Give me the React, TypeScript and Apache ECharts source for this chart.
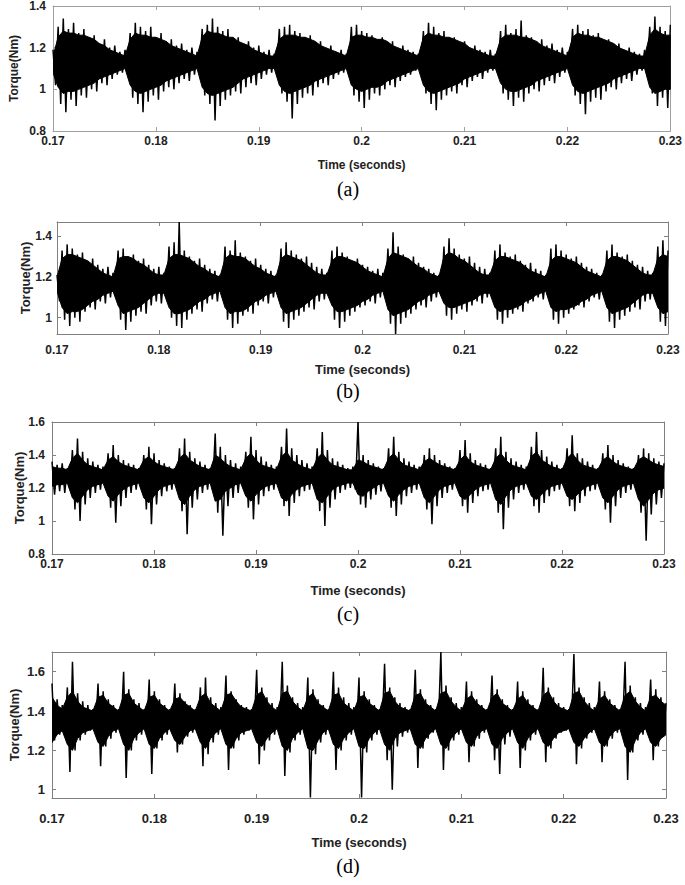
import React, { useEffect, useRef } from "react";
import * as echarts from "echarts";

// Sampling: envelope points every 0.5 ms from 0.170 s; peak lows sit half a step after the highs
const T0 = 0.17;
const STEP = 0.0005;

const xTicks = [0.17, 0.18, 0.19, 0.2, 0.21, 0.22, 0.23];
const yTicksA = [0.8, 1, 1.2, 1.4];
const yTicksB = [1, 1.2, 1.4];
const yTicksC = [0.8, 1, 1.2, 1.4, 1.6];
const yTicksD = [1, 1.2, 1.4, 1.6];
const captions = ["(a)", "(b)", "(c)", "(d)"];

// ---------- (a) ----------
const hiA = [1.19,1.30,1.34,1.29,1.32,1.27,1.29,1.25,1.26,1.22,
 1.24,1.20,1.21,1.18,1.19,1.27,1.32,1.30,1.28,1.30,
 1.25,1.27,1.23,1.24,1.21,1.22,1.19,1.20,1.18,1.29,
 1.31,1.34,1.30,1.28,1.29,1.24,1.25,1.22,1.23,1.20,
 1.21,1.18,1.19,1.17,1.29,1.30,1.31,1.28,1.27,1.25,
 1.26,1.22,1.23,1.20,1.21,1.18,1.19,1.17,1.30,1.31,
 1.28,1.27,1.26,1.24,1.25,1.22,1.23,1.20,1.21,1.19,
 1.18,1.17,1.28,1.32,1.30,1.27,1.28,1.24,1.25,1.22,
 1.23,1.20,1.21,1.19,1.18,1.19,1.17,1.28,1.31,1.27,
 1.29,1.33,1.26,1.25,1.23,1.24,1.21,1.22,1.19,1.20,
 1.18,1.29,1.31,1.28,1.29,1.26,1.27,1.23,1.24,1.21,
 1.22,1.19,1.20,1.18,1.17,1.19,1.30,1.35,1.30,1.28,
 1.31];
const loA = [1.02,0.93,0.89,0.95,0.92,0.97,0.96,1.00,0.99,1.03,
 1.02,1.05,1.07,1.08,1.10,0.96,0.93,0.89,0.94,0.97,
 0.95,0.99,1.01,1.00,1.03,1.05,1.04,1.07,1.09,0.97,
 0.93,0.85,0.92,0.95,0.97,0.99,0.98,1.01,1.03,1.02,
 1.05,1.07,1.08,1.10,0.98,0.94,0.86,0.93,0.96,0.98,
 0.97,1.01,1.03,1.02,1.05,1.07,1.08,1.10,0.97,0.94,
 0.91,0.95,0.98,0.97,1.00,1.02,1.01,1.04,1.06,1.07,
 1.09,1.10,0.98,0.93,0.90,0.95,0.97,0.99,0.98,1.02,
 1.01,1.04,1.06,1.05,1.08,1.09,1.10,0.98,0.95,0.92,
 0.96,0.94,0.98,1.00,0.99,1.02,1.04,1.03,1.06,1.08,
 1.09,0.97,0.93,0.88,0.94,0.96,0.95,0.99,1.01,1.00,
 1.03,1.05,1.04,1.07,1.09,1.08,0.98,0.92,0.96,0.91];
const coreHiA = [1.16,
 1.25,1.28,1.27,1.27,1.26,1.26,1.25,1.24,1.22,1.21,1.19,1.18,1.17,1.16,
 1.24,1.27,1.26,1.26,1.25,1.25,1.24,1.23,1.21,1.20,1.19,1.18,1.17,1.16,
 1.25,1.28,1.27,1.27,1.26,1.25,1.25,1.23,1.22,1.21,1.19,1.18,1.17,1.16,1.16,
 1.24,1.26,1.26,1.26,1.25,1.25,1.24,1.23,1.21,1.20,1.19,1.18,1.17,1.16,
 1.25,1.26,1.26,1.25,1.25,1.24,1.24,1.23,1.21,1.20,1.19,1.18,1.17,1.16,
 1.25,1.27,1.26,1.26,1.25,1.25,1.24,1.23,1.22,1.20,1.19,1.18,1.17,1.16,1.16,
 1.24,1.26,1.26,1.26,1.25,1.25,1.24,1.23,1.21,1.20,1.19,1.18,1.17,1.16,
 1.25,1.27,1.26,1.26,1.25,1.25,1.24,1.23,1.22,1.20,1.19,1.18,1.17,1.16,1.16,
 1.26,1.29,1.27,1.26,1.26];
const coreLoA = [1.08,
 1.01,0.98,0.99,0.99,1.00,1.01,1.02,1.03,1.05,1.06,1.07,1.08,1.09,1.10,
 1.02,0.99,0.98,0.99,1.00,1.01,1.02,1.04,1.05,1.06,1.07,1.08,1.09,1.10,
 1.01,0.98,0.97,0.98,0.99,1.00,1.01,1.03,1.05,1.06,1.07,1.08,1.09,1.10,1.10,
 1.02,0.99,0.98,0.99,1.00,1.01,1.02,1.04,1.05,1.06,1.07,1.08,1.09,1.10,
 1.02,1.00,0.99,1.00,1.01,1.01,1.02,1.04,1.05,1.06,1.07,1.08,1.09,1.10,
 1.02,0.99,0.98,0.99,1.00,1.01,1.02,1.03,1.05,1.06,1.07,1.08,1.09,1.10,1.10,
 1.03,1.00,0.99,0.99,1.00,1.01,1.02,1.04,1.05,1.06,1.07,1.08,1.09,1.10,
 1.02,0.99,0.98,0.99,1.00,1.01,1.02,1.03,1.05,1.06,1.07,1.08,1.09,1.10,1.10,
 1.01,0.98,0.99,1.00,1.00];

// ---------- (b) ----------
const hiB = [1.21,1.33,1.36,1.34,1.31,1.32,1.28,1.29,1.26,1.24,
 1.25,1.22,1.33,1.34,1.30,1.31,1.28,1.29,1.26,1.24,
 1.25,1.22,1.35,1.37,1.47,1.33,1.30,1.28,1.29,1.26,
 1.24,1.23,1.21,1.35,1.33,1.38,1.32,1.30,1.28,1.29,
 1.26,1.24,1.23,1.21,1.34,1.37,1.33,1.31,1.29,1.30,
 1.27,1.25,1.24,1.22,1.33,1.35,1.32,1.30,1.28,1.29,
 1.26,1.25,1.23,1.24,1.22,1.34,1.42,1.35,1.31,1.29,
 1.30,1.27,1.25,1.24,1.22,1.21,1.35,1.39,1.34,1.31,
 1.29,1.30,1.27,1.25,1.24,1.22,1.33,1.36,1.32,1.30,
 1.31,1.28,1.26,1.27,1.24,1.23,1.21,1.34,1.36,1.33,
 1.31,1.29,1.30,1.27,1.25,1.24,1.22,1.21,1.33,1.36,
 1.32,1.30,1.31,1.28,1.26,1.25,1.23,1.22,1.35,1.38,
 1.33];
const loB = [1.08,0.99,0.96,1.00,0.98,1.03,1.05,1.04,1.08,1.07,
 1.10,1.11,0.99,0.94,0.98,1.01,1.03,1.02,1.06,1.08,
 1.07,1.10,1.00,0.96,0.95,0.99,1.02,1.04,1.03,1.07,
 1.09,1.08,1.11,0.99,0.95,0.97,1.01,1.03,1.02,1.06,
 1.08,1.07,1.10,1.11,0.98,0.95,0.99,1.01,1.03,1.05,
 1.04,1.08,1.09,1.11,0.99,0.95,0.98,1.01,1.03,1.05,
 1.06,1.08,1.07,1.10,1.11,0.97,0.92,0.97,1.00,1.02,
 1.04,1.06,1.05,1.08,1.10,1.11,1.01,0.99,1.02,1.04,
 1.03,1.06,1.08,1.07,1.10,1.11,0.99,0.97,1.00,1.02,
 1.04,1.03,1.07,1.08,1.10,1.09,1.11,0.99,0.97,1.00,
 1.02,1.04,1.06,1.05,1.08,1.10,1.09,1.11,0.98,0.95,
 0.99,1.01,1.03,1.05,1.04,1.08,1.09,1.11,0.98,0.96];
const coreHiB = [1.20,
 1.29,1.31,1.31,1.30,1.29,1.28,1.26,1.24,1.22,1.21,1.20,
 1.29,1.30,1.30,1.29,1.27,1.26,1.24,1.22,1.21,1.21,
 1.29,1.31,1.31,1.30,1.29,1.27,1.25,1.24,1.22,1.21,1.20,
 1.29,1.31,1.30,1.30,1.29,1.27,1.25,1.24,1.22,1.21,1.20,
 1.29,1.31,1.30,1.29,1.28,1.26,1.24,1.22,1.21,1.21,
 1.28,1.30,1.30,1.29,1.28,1.27,1.25,1.23,1.22,1.21,1.20,
 1.29,1.32,1.31,1.30,1.29,1.27,1.25,1.24,1.22,1.21,1.20,
 1.30,1.32,1.31,1.29,1.28,1.26,1.24,1.22,1.21,1.21,
 1.28,1.30,1.30,1.29,1.28,1.27,1.25,1.23,1.22,1.21,1.20,
 1.28,1.30,1.30,1.29,1.28,1.27,1.25,1.23,1.22,1.21,1.20,
 1.28,1.30,1.30,1.29,1.28,1.26,1.24,1.22,1.21,1.21,
 1.29,1.31,1.30];
const coreLoB = [1.13,
 1.05,1.02,1.03,1.03,1.04,1.06,1.08,1.09,1.11,1.12,1.13,
 1.06,1.02,1.03,1.04,1.05,1.07,1.09,1.11,1.12,1.12,
 1.05,1.02,1.02,1.03,1.04,1.06,1.08,1.09,1.11,1.12,1.13,
 1.05,1.02,1.03,1.03,1.04,1.06,1.08,1.09,1.11,1.12,1.13,
 1.05,1.02,1.03,1.04,1.05,1.07,1.09,1.11,1.12,1.12,
 1.06,1.03,1.03,1.04,1.05,1.06,1.08,1.09,1.11,1.12,1.13,
 1.04,1.01,1.02,1.03,1.04,1.06,1.08,1.09,1.11,1.12,1.13,
 1.07,1.05,1.05,1.06,1.07,1.08,1.09,1.11,1.12,1.12,
 1.05,1.03,1.04,1.04,1.05,1.06,1.08,1.09,1.11,1.12,1.13,
 1.05,1.03,1.04,1.04,1.05,1.06,1.08,1.09,1.11,1.12,1.13,
 1.05,1.02,1.03,1.04,1.05,1.07,1.09,1.11,1.12,1.12,
 1.05,1.02,1.03];

// ---------- (c) ----------
const hiC = [1.36,1.34,1.35,1.32,1.43,1.50,1.42,1.38,1.36,1.34,
 1.33,1.41,1.46,1.40,1.37,1.35,1.34,1.32,1.40,1.45,
 1.41,1.37,1.35,1.33,1.32,1.44,1.50,1.42,1.38,1.36,
 1.34,1.32,1.53,1.45,1.40,1.37,1.35,1.33,1.42,1.51,
 1.43,1.39,1.36,1.34,1.33,1.45,1.56,1.44,1.40,1.37,
 1.35,1.33,1.44,1.54,1.43,1.38,1.36,1.34,1.32,1.33,
 1.60,1.40,1.37,1.35,1.33,1.32,1.44,1.51,1.42,1.38,
 1.36,1.34,1.33,1.40,1.44,1.40,1.37,1.35,1.33,1.32,
 1.43,1.49,1.41,1.37,1.35,1.34,1.32,1.44,1.51,1.42,
 1.38,1.36,1.34,1.33,1.45,1.54,1.43,1.39,1.36,1.34,
 1.32,1.44,1.52,1.41,1.38,1.36,1.34,1.32,1.41,1.46,
 1.40,1.37,1.35,1.33,1.32,1.40,1.44,1.41,1.38,1.36,
 1.35];
const loC = [1.16,1.18,1.17,1.19,1.07,1.00,1.10,1.14,1.17,1.19,
 1.20,1.08,0.99,1.09,1.14,1.17,1.19,1.20,1.07,0.98,
 1.10,1.15,1.18,1.19,1.21,1.06,0.92,1.08,1.13,1.17,
 1.19,1.20,1.05,0.91,1.09,1.14,1.17,1.20,1.08,1.01,
 1.10,1.15,1.18,1.19,1.21,1.09,1.03,1.11,1.15,1.18,
 1.19,1.21,1.06,0.97,1.08,1.13,1.17,1.19,1.20,1.19,
 1.10,1.08,1.13,1.16,1.18,1.20,1.08,1.03,1.10,1.15,
 1.17,1.19,1.20,1.07,0.98,1.09,1.14,1.17,1.19,1.21,
 1.09,1.05,1.11,1.15,1.18,1.19,1.21,1.05,0.95,1.08,
 1.13,1.17,1.19,1.20,1.09,1.05,1.11,1.15,1.18,1.19,
 1.21,1.09,1.06,1.11,1.15,1.18,1.19,1.20,1.07,0.99,
 1.09,1.14,1.17,1.19,1.20,1.05,0.88,1.04,1.10,1.14];
const coreHiC = [1.33,1.32,1.32,1.31,
 1.38,1.41,1.37,1.34,1.33,1.32,1.31,
 1.37,1.39,1.36,1.34,1.33,1.32,1.31,
 1.37,1.39,1.36,1.34,1.33,1.32,1.31,
 1.38,1.41,1.37,1.35,1.33,1.32,1.31,
 1.40,1.38,1.35,1.33,1.32,1.31,
 1.38,1.41,1.37,1.34,1.33,1.32,1.31,
 1.39,1.42,1.37,1.35,1.33,1.32,1.31,
 1.38,1.41,1.37,1.34,1.33,1.32,1.31,1.31,
 1.37,1.36,1.34,1.33,1.32,1.31,
 1.38,1.41,1.37,1.34,1.33,1.32,1.31,
 1.36,1.38,1.36,1.34,1.33,1.32,1.31,
 1.37,1.40,1.36,1.34,1.33,1.32,1.31,
 1.38,1.41,1.37,1.34,1.33,1.32,1.31,
 1.39,1.42,1.37,1.35,1.33,1.32,1.31,
 1.38,1.41,1.37,1.34,1.33,1.32,1.31,
 1.37,1.39,1.36,1.34,1.33,1.32,1.31,
 1.37,1.39,1.37,1.35,1.34,1.33];
const coreLoC = [1.21,1.22,1.22,1.23,
 1.14,1.11,1.15,1.19,1.21,1.22,1.23,
 1.15,1.12,1.16,1.19,1.21,1.22,1.23,
 1.14,1.11,1.15,1.19,1.21,1.22,1.23,
 1.13,1.10,1.15,1.19,1.21,1.22,1.23,
 1.12,1.13,1.18,1.20,1.22,1.23,
 1.15,1.12,1.16,1.19,1.21,1.22,1.23,
 1.14,1.12,1.16,1.19,1.21,1.22,1.23,
 1.13,1.11,1.15,1.19,1.21,1.22,1.23,1.23,
 1.16,1.15,1.18,1.20,1.22,1.23,
 1.15,1.12,1.16,1.19,1.21,1.22,1.23,
 1.14,1.11,1.15,1.19,1.21,1.22,1.23,
 1.15,1.13,1.16,1.19,1.21,1.22,1.23,
 1.13,1.10,1.15,1.19,1.21,1.22,1.23,
 1.15,1.13,1.16,1.19,1.21,1.22,1.23,
 1.15,1.13,1.16,1.19,1.21,1.22,1.23,
 1.14,1.11,1.15,1.19,1.21,1.22,1.23,
 1.13,1.09,1.13,1.17,1.19,1.20];

// ---------- (d) ----------
const hiD = [1.54,1.46,1.43,1.52,1.65,1.49,1.45,1.43,1.41,1.54,
 1.50,1.46,1.43,1.41,1.60,1.51,1.46,1.44,1.41,1.56,
 1.50,1.46,1.43,1.41,1.54,1.49,1.45,1.43,1.41,1.52,
 1.57,1.47,1.44,1.42,1.58,1.50,1.46,1.43,1.42,1.41,
 1.61,1.52,1.47,1.44,1.42,1.65,1.53,1.47,1.44,1.42,
 1.57,1.51,1.46,1.43,1.41,1.60,1.52,1.47,1.44,1.42,
 1.57,1.50,1.46,1.43,1.41,1.64,1.52,1.47,1.44,1.42,
 1.41,1.61,1.51,1.46,1.43,1.41,1.70,1.53,1.47,1.44,
 1.42,1.55,1.50,1.46,1.43,1.41,1.58,1.51,1.46,1.43,
 1.41,1.55,1.50,1.46,1.43,1.41,1.62,1.52,1.47,1.44,
 1.42,1.41,1.69,1.52,1.47,1.44,1.42,1.55,1.50,1.46,
 1.43,1.41,1.65,1.53,1.47,1.44,1.42,1.56,1.51,1.47,
 1.44];
const loD = [1.25,1.28,1.30,1.09,1.20,1.25,1.28,1.30,1.31,1.12,
 1.22,1.26,1.29,1.31,1.06,1.20,1.25,1.28,1.30,1.08,
 1.21,1.25,1.28,1.30,1.19,1.23,1.27,1.29,1.31,1.12,
 1.18,1.24,1.28,1.30,1.10,1.21,1.25,1.28,1.30,1.31,
 1.13,1.20,1.25,1.28,1.30,1.07,1.19,1.25,1.28,1.30,
 0.96,1.18,1.24,1.28,1.30,1.10,1.20,1.25,1.28,1.30,
 0.96,1.19,1.25,1.28,1.30,1.15,1.00,1.22,1.27,1.29,
 1.31,1.11,1.21,1.26,1.29,1.31,1.10,1.20,1.25,1.28,
 1.30,1.14,1.22,1.26,1.29,1.31,1.15,1.08,1.23,1.27,
 1.30,1.11,1.20,1.25,1.28,1.30,1.14,1.21,1.26,1.29,
 1.30,1.31,1.13,1.21,1.26,1.29,1.31,1.14,1.22,1.26,
 1.29,1.31,1.05,1.19,1.25,1.28,1.30,1.15,1.22,1.27];
const coreHiD = [1.47,1.43,1.41,
 1.47,1.50,1.45,1.42,1.41,1.40,
 1.47,1.48,1.44,1.42,1.40,
 1.48,1.49,1.44,1.42,1.40,
 1.47,1.48,1.44,1.42,1.40,
 1.46,1.47,1.44,1.42,1.40,
 1.47,1.49,1.44,1.42,1.40,
 1.48,1.49,1.45,1.42,1.41,1.40,
 1.48,1.50,1.45,1.42,1.40,
 1.49,1.50,1.45,1.42,1.40,
 1.47,1.49,1.44,1.42,1.40,
 1.48,1.49,1.44,1.42,1.40,
 1.47,1.48,1.44,1.42,1.40,
 1.49,1.50,1.45,1.42,1.41,1.40,
 1.48,1.49,1.44,1.42,1.40,
 1.49,1.50,1.45,1.42,1.40,
 1.46,1.48,1.44,1.42,1.40,
 1.47,1.49,1.44,1.42,1.40,
 1.46,1.48,1.44,1.42,1.40,
 1.48,1.50,1.45,1.42,1.41,1.40,
 1.49,1.50,1.45,1.42,1.40,
 1.46,1.48,1.44,1.42,1.40,
 1.48,1.50,1.45,1.42,1.40,
 1.47,1.48,1.45,1.43];
const coreLoD = [1.24,1.28,1.30,
 1.23,1.20,1.26,1.29,1.30,1.31,
 1.24,1.22,1.27,1.30,1.31,
 1.23,1.20,1.26,1.29,1.31,
 1.23,1.21,1.26,1.29,1.31,
 1.25,1.23,1.27,1.30,1.31,
 1.24,1.21,1.26,1.29,1.31,
 1.23,1.21,1.26,1.29,1.30,1.31,
 1.24,1.22,1.26,1.29,1.31,
 1.22,1.20,1.26,1.29,1.31,
 1.21,1.20,1.25,1.29,1.31,
 1.23,1.21,1.26,1.29,1.31,
 1.22,1.21,1.26,1.29,1.31,
 1.23,1.20,1.26,1.29,1.30,1.31,
 1.23,1.21,1.26,1.29,1.31,
 1.23,1.21,1.26,1.29,1.31,
 1.24,1.22,1.27,1.30,1.31,
 1.23,1.21,1.26,1.29,1.31,
 1.24,1.21,1.26,1.29,1.31,
 1.24,1.22,1.26,1.29,1.30,1.31,
 1.24,1.22,1.26,1.29,1.31,
 1.24,1.22,1.27,1.30,1.31,
 1.22,1.19,1.25,1.29,1.31,
 1.24,1.22,1.26,1.28];

const tAt = (i: number) => +(T0 + i * STEP).toFixed(6);

function zigzag(hi: number[], lo: number[]) {
  const pts: number[][] = [];
  for (let i = 0; i < hi.length; i++) {
    pts.push([tAt(i), hi[i]]);
    if (i < lo.length) pts.push([+(T0 + i * STEP + STEP / 2).toFixed(6), lo[i]]);
  }
  return pts;
}

const FONT = "'Liberation Sans', Arial, Helvetica, sans-serif";

const panels = [
  { hi: hiA, lo: loA, cHi: coreHiA, cLo: coreLoA, yMin: 0.8, yMax: 1.4, yTicks: yTicksA,
    grid: { left: 42, top: 5, width: 629, height: 126 },
    xm: 4, ym: 7, xg: 28, yg: 33, fs: 12, nfs: 12, cap: 189, box: "#a0a0a0" },
  { hi: hiB, lo: loB, cHi: coreHiB, cLo: coreLoB, yMin: 0.92, yMax: 1.47, yTicks: yTicksB,
    grid: { left: 57, top: 222, width: 611, height: 112 },
    xm: 10, ym: 5, xg: 29, yg: 25, fs: 12, nfs: 13, cap: 391, box: "#808080" },
  { hi: hiC, lo: loC, cHi: coreHiC, cLo: coreLoC, yMin: 0.8, yMax: 1.6, yTicks: yTicksC,
    grid: { left: 52, top: 422, width: 612, height: 132 },
    xm: 4, ym: 7, xg: 30, yg: 26, fs: 12, nfs: 13, cap: 614, box: "#808080" },
  { hi: hiD, lo: loD, cHi: coreHiD, cLo: coreLoD, yMin: 0.958, yMax: 1.7, yTicks: yTicksD,
    grid: { left: 46, top: 652, width: 620, height: 146 },
    xm: 14, ym: 7, xg: 38, yg: 31, fs: 13, nfs: 13, cap: 866, box: "#808080" },
];

export default function App() {
  const ref = useRef<HTMLDivElement>(null);
  useEffect(() => {
    if (!ref.current) return;
    const chart = echarts.init(ref.current, undefined, { renderer: "svg" });
    const grids: any[] = [];
    const xAxes: any[] = [];
    const yAxes: any[] = [];
    const series: any[] = [];
    const graphics: any[] = [];
    panels.forEach((p, k) => {
      grids.push({ ...p.grid, containLabel: false });
      const lineStyle = { color: p.box, width: 1 };
      const labelStyle = { fontFamily: FONT, fontWeight: "bold", fontSize: p.fs, color: "#222" };
      xAxes.push({
        type: "value", gridIndex: k, min: 0.17, max: 0.23, position: "bottom",
        axisLine: { show: true, onZero: false, lineStyle },
        axisTick: { show: true, inside: true, length: 4, lineStyle, customValues: xTicks },
        axisLabel: { ...labelStyle, margin: p.xm, customValues: xTicks, showMinLabel: true, showMaxLabel: true },
        splitLine: { show: false },
        name: "Time (seconds)", nameLocation: "middle", nameGap: p.xg, nameMoveOverlap: false,
        nameTextStyle: { fontFamily: FONT, fontWeight: "bold", fontSize: p.nfs, color: "#222" },
      });
      xAxes.push({
        type: "value", gridIndex: k, min: 0.17, max: 0.23, position: "top",
        axisLine: { show: true, onZero: false, lineStyle },
        axisTick: { show: true, inside: true, length: 4, lineStyle, customValues: xTicks },
        axisLabel: { show: false },
        splitLine: { show: false },
      });
      yAxes.push({
        type: "value", gridIndex: k, min: p.yMin, max: p.yMax, position: "left",
        axisLine: { show: true, onZero: false, lineStyle },
        axisTick: { show: true, inside: true, length: 4, lineStyle, customValues: p.yTicks },
        axisLabel: { ...labelStyle, margin: p.ym, customValues: p.yTicks },
        splitLine: { show: false },
        name: "Torque(Nm)", nameLocation: "middle", nameGap: p.yg, nameRotate: 90, nameMoveOverlap: false,
        nameTextStyle: { fontFamily: FONT, fontWeight: "bold", fontSize: p.nfs, color: "#222" },
      });
      yAxes.push({
        type: "value", gridIndex: k, min: p.yMin, max: p.yMax, position: "right",
        axisLine: { show: true, onZero: false, lineStyle },
        axisTick: { show: true, inside: true, length: 4, lineStyle, customValues: p.yTicks },
        axisLabel: { show: false },
        splitLine: { show: false },
      });
      // dense core of the signal: filled band between core lows and highs
      const cHi = p.cHi;
      const cLo = p.cLo;
      series.push({
        type: "custom", coordinateSystem: "cartesian2d", xAxisIndex: 2 * k, yAxisIndex: 2 * k,
        data: [[T0, cHi[0]]], silent: true, clip: true, z: 2,
        renderItem: (params: any, api: any) => {
          const pts: number[][] = [];
          for (let i = 0; i < cHi.length; i++) pts.push(api.coord([tAt(i), cHi[i]]));
          for (let i = cLo.length - 1; i >= 0; i--) pts.push(api.coord([tAt(i), cLo[i]]));
          return { type: "polygon", shape: { points: pts }, style: { fill: "#000", stroke: "#000", lineWidth: 1 } };
        },
      });
      // spikes: zig-zag between peak highs and lows
      series.push({
        type: "line", xAxisIndex: 2 * k, yAxisIndex: 2 * k,
        data: zigzag(p.hi, p.lo), showSymbol: false, symbol: "none",
        lineStyle: { color: "#000", width: 1.5, join: "bevel" },
        clip: true, silent: true, z: 3,
      });
      graphics.push({
        type: "text", x: 348, y: p.cap,
        style: { text: captions[k], font: "20px 'Liberation Serif', 'Times New Roman', serif", fill: "#000", align: "center", verticalAlign: "middle" },
      });
    });
    chart.setOption({
      animation: false,
      backgroundColor: "#fff",
      grid: grids,
      xAxis: xAxes,
      yAxis: yAxes,
      series,
      graphic: graphics,
    });
    return () => chart.dispose();
  }, []);
  return <div ref={ref} style={{ position: "fixed", left: 0, top: 0, width: 685, height: 885, background: "#fff" }} />;
}
